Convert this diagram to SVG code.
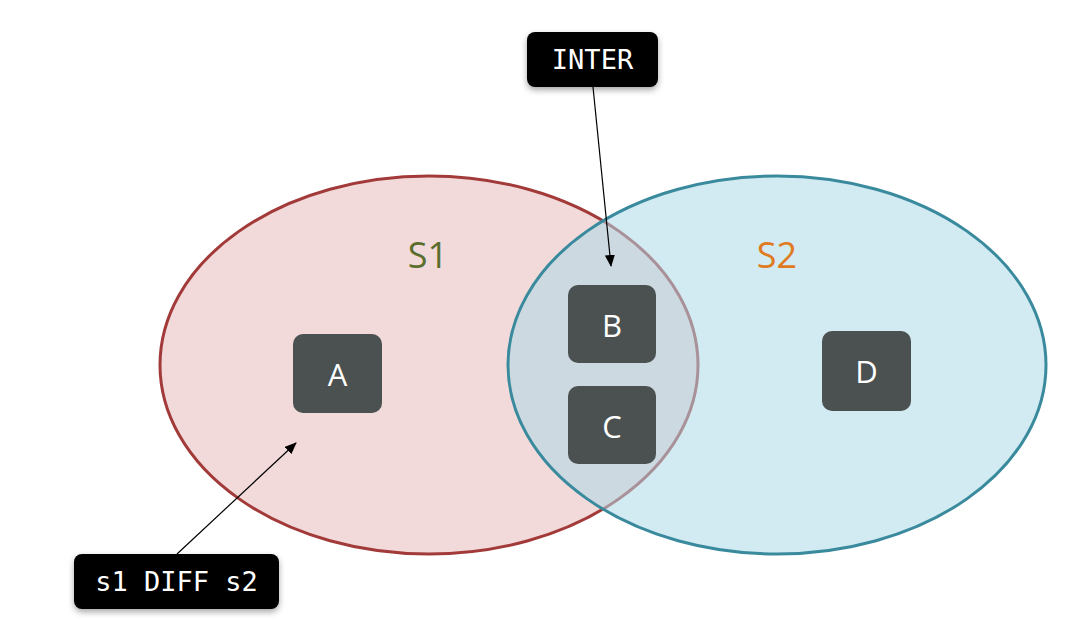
<svg xmlns="http://www.w3.org/2000/svg" width="1083" height="623" viewBox="0 0 1083 623">
<style>
.node rect{fill:#4a5150}
.node text{fill:#ffffff;font-family:"Open Sans","Noto Sans",sans-serif;font-size:31px;text-anchor:middle;dominant-baseline:central}
.lbl rect{fill:#000000}
.lbl text{fill:#ffffff;font-family:"DejaVu Sans Mono","Liberation Mono",monospace;font-size:27px;text-anchor:middle;dominant-baseline:central}
.set text{font-family:"Open Sans","Noto Sans",sans-serif;font-size:36px;text-anchor:middle;dominant-baseline:central}
.conn line{stroke:#000;stroke-width:1.2;marker-end:url(#ah)}
</style>
<defs>
<marker id="ah" markerWidth="12" markerHeight="10" refX="11" refY="5" orient="auto" markerUnits="userSpaceOnUse">
<path d="M0,0 L12,5 L0,10 z" fill="#000"/>
</marker>
<filter id="sh" x="-20%" y="-30%" width="140%" height="170%">
<feDropShadow dx="0" dy="3" stdDeviation="3" flood-color="#000" flood-opacity="0.35"/>
</filter>
</defs>
<rect width="1083" height="623" fill="#ffffff"/>
<g id="S1" class="set">
<ellipse cx="429" cy="365" rx="269" ry="189" fill="#f2dada" stroke="#a33a3a" stroke-width="3"/>
<text x="428" y="254" fill="#5a6e2e">S1</text>
</g>
<g id="S2" class="set">
<ellipse cx="777" cy="365" rx="269" ry="189" fill="rgb(173,216,230)" fill-opacity="0.55" stroke="#3a8a9e" stroke-width="3"/>
<text x="777" y="254" fill="#e07a20">S2</text>
</g>
<g id="A" class="node"><rect x="293" y="334" width="89" height="79" rx="10"/><text x="337.5" y="374">A</text></g>
<g id="B" class="node"><rect x="568" y="285" width="88" height="78" rx="10"/><text x="612" y="325">B</text></g>
<g id="C" class="node"><rect x="568" y="386" width="88" height="78" rx="10"/><text x="612" y="426">C</text></g>
<g id="D" class="node"><rect x="822" y="331" width="89" height="80" rx="10"/><text x="866.5" y="371">D</text></g>
<g id="INTER" class="lbl"><rect x="527" y="32" width="131" height="55" rx="8" filter="url(#sh)"/><text x="592.5" y="59">INTER</text></g>
<g id="DIFF" class="lbl"><rect x="74" y="554" width="205" height="55" rx="8" filter="url(#sh)"/><text x="176.5" y="581">s1 DIFF s2</text></g>
<g id="connectors" class="conn">
<line x1="593" y1="87" x2="611" y2="266"/>
<line x1="177" y1="554" x2="296" y2="443"/>
</g>
</svg>
